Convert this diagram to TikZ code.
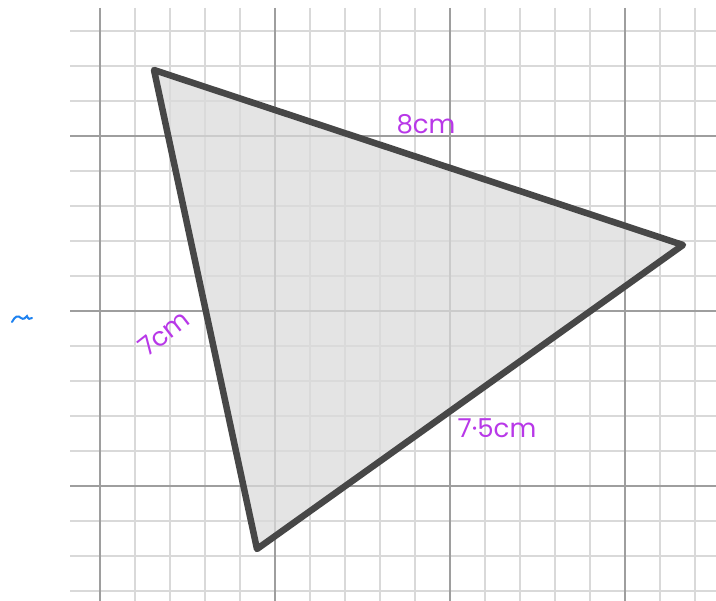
\documentclass[tikz,border=0pt]{standalone}
\usepackage{fontspec}
\setmainfont{Poppins}
\begin{document}
\begin{tikzpicture}[x=1pt,y=-1pt,
  minorline/.style={draw=black!15,line width=1.8pt},
  majorline/.style={draw=black!38,line width=2.4pt},
  tri/.style={draw=black!72,line width=6.5pt,fill=black!14,fill opacity=0.75,line join=round},
  lbl/.style={font=\fontsize{26}{28}\selectfont,inner sep=0pt}]
\definecolor{pen}{RGB}{184,56,232}
\useasboundingbox (0,0) rectangle (716,601);
\fill[white] (0,0) rectangle (716,601);
% minor grid
\foreach \x in {135,170,205,240,310,345,380,415,485,520,555,590,660,695}
  \draw[minorline] (\x,8) -- (\x,601);
\foreach \y in {31,66,101,171,206,241,276,346,381,416,451,521,556,591}
  \draw[minorline] (70,\y) -- (716,\y);
% major grid
\foreach \x in {100,275,450,625}
  \draw[majorline] (\x,8) -- (\x,601);
\foreach \y in {136,311,486}
  \draw[majorline] (70,\y) -- (716,\y);
% triangle
\coordinate (A) at (154,70);
\coordinate (B) at (683,245);
\coordinate (C) at (257,549);
\draw[tri] (A) -- (B) -- (C) -- cycle;
% labels
\node[lbl,text=pen] (l8) at (426,124) {8cm};
\node[lbl,text=pen,rotate=38] (l7) at (164,333) {7cm};
\node[lbl,text=pen] (l75) at (497,428) {7·5cm};
% blue squiggle
\draw[draw={rgb,255:red,30;green,130;blue,240},line width=2pt,line cap=round]
  (12,322) .. controls (15,316) and (18,315) .. (21,318) .. controls (23,320) and (26,318) .. (27,316) .. controls (28,319) and (30,320) .. (32,318);
\end{tikzpicture}
\end{document}
